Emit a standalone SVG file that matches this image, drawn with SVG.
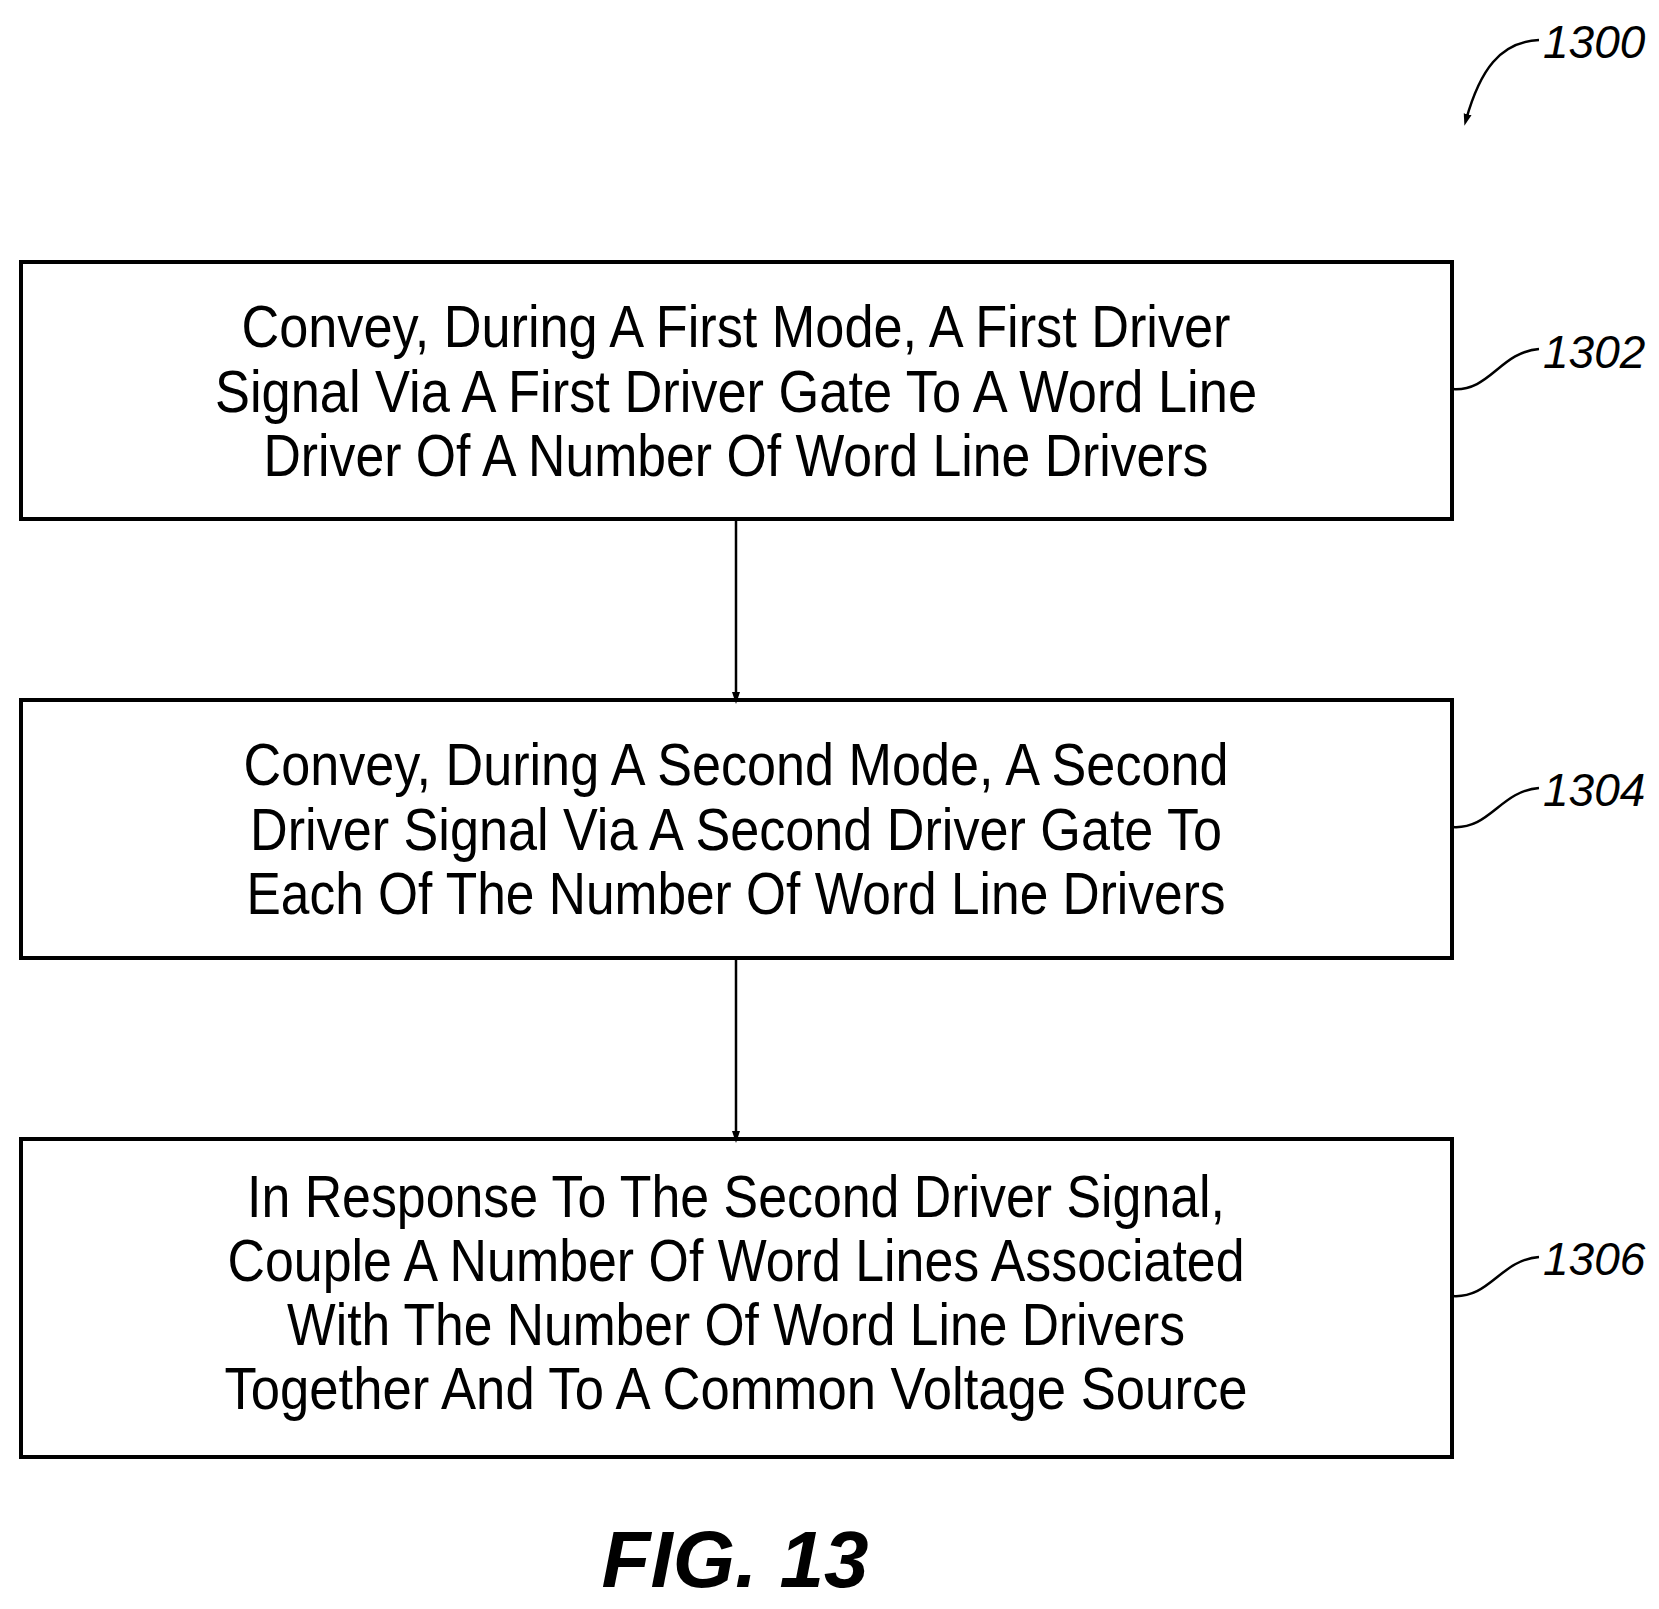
<svg xmlns="http://www.w3.org/2000/svg" width="1659" height="1609" viewBox="0 0 1659 1609">
<style>
.box{fill:#fff;stroke:#000;stroke-width:4}
.t{font-family:"Liberation Sans",Arial,sans-serif;font-size:60px;text-anchor:middle;fill:#000}
.lbl{font-family:"Liberation Sans",Arial,sans-serif;font-size:46px;font-style:italic;fill:#000}
.ln{fill:none;stroke:#000;stroke-width:2.5}
</style>
<defs>
<marker id="ah" markerWidth="12" markerHeight="24" refX="12" refY="12" orient="auto" markerUnits="userSpaceOnUse" viewBox="0 0 24 24"><path d="M0,4 L24,12 L0,20 Z" fill="#000"/></marker>
</defs>
<rect width="1659" height="1609" fill="#fff"/>
<g id="n1302">
<rect class="box" x="21" y="262" width="1431" height="257"/>
<text class="t" x="736" y="347" textLength="989" lengthAdjust="spacingAndGlyphs">Convey, During A First Mode, A First Driver</text>
<text class="t" x="736" y="412" textLength="1042" lengthAdjust="spacingAndGlyphs">Signal Via A First Driver Gate To A Word Line</text>
<text class="t" x="736" y="476" textLength="945" lengthAdjust="spacingAndGlyphs">Driver Of A Number Of Word Line Drivers</text>
</g>
<g id="n1304">
<rect class="box" x="21" y="700" width="1431" height="258"/>
<text class="t" x="736" y="785" textLength="985" lengthAdjust="spacingAndGlyphs">Convey, During A Second Mode, A Second</text>
<text class="t" x="736" y="850" textLength="972" lengthAdjust="spacingAndGlyphs">Driver Signal Via A Second Driver Gate To</text>
<text class="t" x="736" y="914" textLength="979" lengthAdjust="spacingAndGlyphs">Each Of The Number Of Word Line Drivers</text>
</g>
<g id="n1306">
<rect class="box" x="21" y="1139" width="1431" height="318"/>
<text class="t" x="736" y="1217" textLength="978" lengthAdjust="spacingAndGlyphs">In Response To The Second Driver Signal,</text>
<text class="t" x="736" y="1281" textLength="1017" lengthAdjust="spacingAndGlyphs">Couple A Number Of Word Lines Associated</text>
<text class="t" x="736" y="1345" textLength="898" lengthAdjust="spacingAndGlyphs">With The Number Of Word Line Drivers</text>
<text class="t" x="736" y="1409" textLength="1023" lengthAdjust="spacingAndGlyphs">Together And To A Common Voltage Source</text>
</g>
<g id="connectors">
<line class="ln" x1="736" y1="519" x2="736" y2="698" marker-end="url(#ah)"/>
<line class="ln" x1="736" y1="958" x2="736" y2="1137" marker-end="url(#ah)"/>
<path class="ln" d="M1452,389 C1490,392 1500,352 1539,349"/>
<path class="ln" d="M1452,827 C1490,830 1500,791 1539,788"/>
<path class="ln" d="M1452,1296 C1490,1299 1500,1260 1539,1257"/>
<path class="ln" d="M1539,40 C1500,42 1480,70 1466,120" marker-end="url(#ah)"/>
</g>
<g id="labels">
<text class="lbl" x="1543" y="58">1300</text>
<text class="lbl" x="1543" y="368">1302</text>
<text class="lbl" x="1543" y="806">1304</text>
<text class="lbl" x="1543" y="1275">1306</text>
<text x="735" y="1587" font-family="Liberation Sans,Arial,sans-serif" font-size="80" font-weight="bold" font-style="italic" text-anchor="middle">FIG. 13</text>
</g>
</svg>
